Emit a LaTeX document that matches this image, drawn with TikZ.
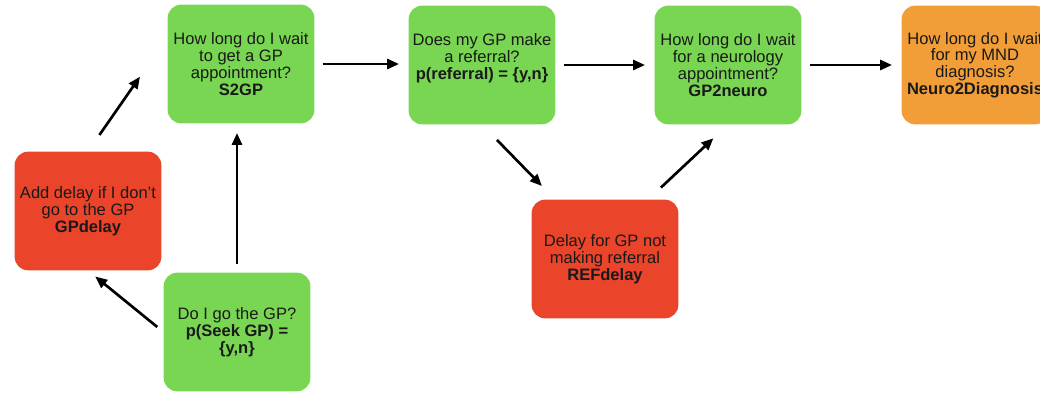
\documentclass[tikz,border=0pt]{standalone}
\usepackage{fontspec}
\setmainfont{Liberation Sans}
\usetikzlibrary{arrows.meta}
\definecolor{waitgreen}{RGB}{121,214,82}
\definecolor{delayred}{RGB}{234,68,42}
\definecolor{goalorange}{RGB}{242,158,56}

\begin{document}
\begin{tikzpicture}[x=0.75pt, y=-0.75pt,
  stage/.style={rectangle, rounded corners=10pt, minimum width=110pt, minimum height=89pt,
    align=center, inner sep=2pt, text=black!90, font=\fontsize{12.4}{12.6}\selectfont},
  wait/.style={stage, fill=waitgreen},
  delay/.style={stage, fill=delayred},
  goal/.style={stage, fill=goalorange},
  link/.style={-{Triangle[length=9pt,width=7.5pt]}, line width=2pt, shorten <=6pt, shorten >=7pt}]
%%% pathway to diagnosis %%%
\clip (0,0) rectangle (1040,393);

      \node[wait] (seekgp) at (237,332) { Do I go the GP?\\ \textbf{p(Seek GP) =}\\ \textbf{\{y,n\}} };
      %%
      \node[delay] (gpdelay) at (88,211) { Add delay if I don't\\ go to the GP\\ \textbf{GPdelay} };
      %%
      \node[wait] (s2gp) at (241,64) { How long do I wait\\ to get a GP\\ appointment?\\ \textbf{S2GP} };
      %%
      \node[wait] (referral) at (482,65) { Does my GP make\\ a referral?\\ \textbf{p(referral) = \{y,n\}}\\ \mbox{} };
      %%
      \node[delay] (refdelay) at (605,259) { Delay for GP not\\ making referral\\ \textbf{REFdelay} };
      %%
      \node[wait] (gp2neuro) at (728,65) { How long do I wait\\ for a neurology\\ appointment?\\ \textbf{GP2neuro} };
      %%
      \node[goal] (diagnosis) at (975,65) { How long do I wait\\ for my MND\\ diagnosis?\\ \textbf{Neuro2Diagnosis} };

%% connectors
      \draw[link] (seekgp.north) -- (seekgp.north |- s2gp.south);
      \draw[link] (seekgp.west) -- (gpdelay.south);
      \draw[link, shorten <=15pt, shorten >=36pt] (gpdelay.north) -- (s2gp.160);
      \draw[link] (s2gp.east) -- (referral.west |- s2gp.east);
      \draw[link] (referral.east) -- (gp2neuro.west);
      \draw[link, shorten <=16pt, shorten >=14pt] (referral.south) -- (refdelay.130);
      \draw[link, shorten <=13pt, shorten >=15pt] (refdelay.54) -- (gp2neuro.south);
      \draw[link] (gp2neuro.east) -- (diagnosis.west);

\end{tikzpicture}
\end{document}
